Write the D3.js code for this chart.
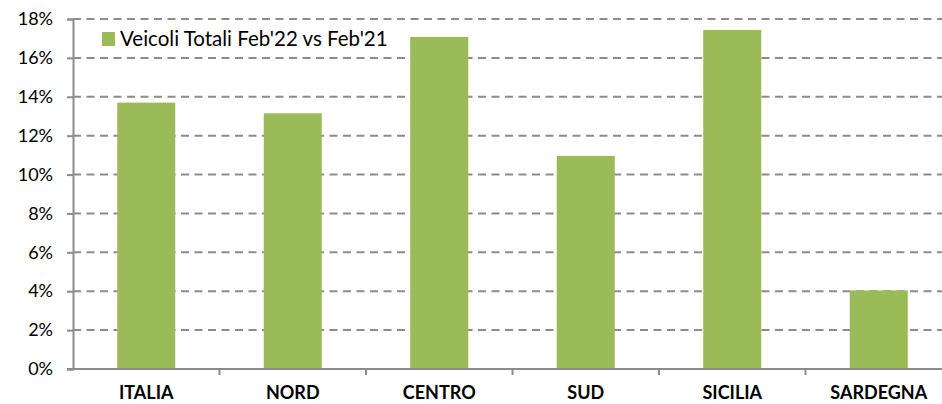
<!DOCTYPE html>
<html>
<head>
<meta charset="utf-8">
<script src="https://cdn.jsdelivr.net/npm/d3@7"></script>
<style>
  body { margin: 0; background: #fff; }
  svg { display: block; }
</style>
</head>
<body>
<div id="chart"></div>
<script>
var categories = ["ITALIA", "NORD", "CENTRO", "SUD", "SICILIA", "SARDEGNA"];
var values = [13.7, 13.15, 17.08, 10.96, 17.44, 4.04];
var yTicks = [0, 2, 4, 6, 8, 10, 12, 14, 16, 18];
var seriesName = "Veicoli Totali Feb'22 vs Feb'21";

var width = 942, height = 404;
var mLeft = 73, mRight = 952, mTop = 19, mBottom = 369;

var svg = d3.select("#chart").append("svg")
    .attr("width", width)
    .attr("height", height)
    .style("font-family", "Lato, 'Open Sans', sans-serif");

var x = d3.scaleBand().domain(categories).range([mLeft, mRight]).paddingInner(0).paddingOuter(0);
var y = d3.scaleLinear().domain([0, 18]).range([mBottom, mTop]);

// grid lines
svg.append("g").selectAll("line")
    .data(yTicks.filter(function(d){ return d > 0; }))
    .enter().append("line")
    .attr("x1", mLeft).attr("x2", mRight)
    .attr("y1", function(d){ return y(d); })
    .attr("y2", function(d){ return y(d); })
    .attr("stroke", "#8c8c8c")
    .attr("stroke-width", 2)
    .attr("stroke-dasharray", "8,5.5");

// bars
var bw = 58;
svg.append("g").selectAll("rect")
    .data(values)
    .enter().append("rect")
    .attr("x", function(d, i){ return x(categories[i]) + x.bandwidth()/2 - bw/2; })
    .attr("width", bw)
    .attr("y", function(d){ return y(d); })
    .attr("height", function(d){ return y(0) - y(d); })
    .attr("fill", "#9bbb59");

// y axis
var yAxis = d3.axisLeft(y).tickValues(yTicks).tickSize(6).tickPadding(14)
    .tickFormat(function(d){ return d + "%"; });
var gy = svg.append("g").attr("transform", "translate(" + mLeft + ",0)").call(yAxis);
gy.select(".domain").attr("stroke", "#8c8c8c").attr("stroke-width", 2);
gy.selectAll(".tick line").attr("stroke", "#8c8c8c").attr("stroke-width", 2);
gy.selectAll("text").style("font-size", "18px").attr("fill", "#000").attr("font-family", "Lato, sans-serif");

// x axis
var gx = svg.append("g").attr("transform", "translate(0," + mBottom + ")");
gx.append("line").attr("x1", mLeft - 6).attr("x2", mRight)
    .attr("stroke", "#8c8c8c").attr("stroke-width", 2);
gx.selectAll(".xt")
    .data(categories.slice(1))
    .enter().append("line")
    .attr("x1", function(d){ return x(d); })
    .attr("x2", function(d){ return x(d); })
    .attr("y1", 0).attr("y2", 6)
    .attr("stroke", "#8c8c8c").attr("stroke-width", 2);
gx.selectAll(".xl")
    .data(categories)
    .enter().append("text")
    .attr("x", function(d){ return x(d) + x.bandwidth()/2; })
    .attr("y", 30)
    .attr("text-anchor", "middle")
    .style("font-size", "18px")
    .style("font-weight", "bold")
    .text(function(d){ return d; });

// legend
var lg = svg.append("g");
lg.append("rect").attr("x", 102).attr("y", 32).attr("width", 13).attr("height", 14).attr("fill", "#9bbb59");
lg.append("text").attr("x", 120).attr("y", 46)
    .style("font-size", "20.5px")
    .text(seriesName);
</script>
</body>
</html>
